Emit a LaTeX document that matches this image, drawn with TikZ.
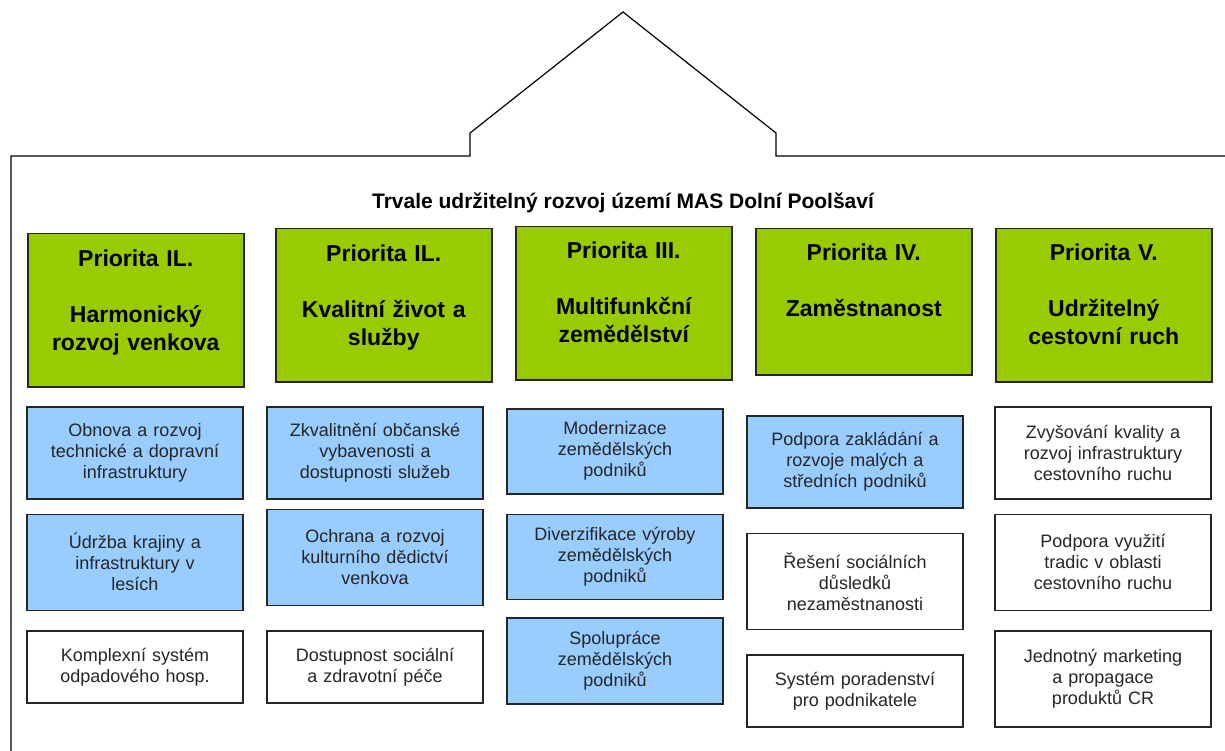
\documentclass[tikz,border=0pt]{standalone}
\usepackage{fontspec}
\setmainfont{Liberation Sans}
\usepackage{xcolor}
\usetikzlibrary{positioning}
\definecolor{masgreen}{HTML}{99CC00}
\definecolor{masblue}{HTML}{99CCFF}
\tikzset{
  mas priority/.style={rectangle, draw=black!85, line width=1.5pt, fill=masgreen, anchor=north west, minimum width=216pt, minimum height=153pt},
  mas priority text/.style={align=center, inner sep=0pt, text width=214pt, font=\bfseries\fontsize{23}{27.5}\selectfont},
  mas measure/.style={rectangle, draw=black!85, line width=1.5pt, fill=white, anchor=north, align=center, minimum width=216pt, inner sep=0pt, text width=210pt, text=black!85, font=\fontsize{18}{21}\selectfont},
  mas focus/.style={mas measure, fill=masblue},
  mas title/.style={font=\bfseries\fontsize{21}{25}\selectfont}
}
\begin{document}
\begin{tikzpicture}[x=1pt, y=-1pt]
    \useasboundingbox (0,0) rectangle (1225,751);
    % house outline
    \draw [line width=1.2pt] (11,751) -- (11,156) -- (470,156) -- (470,133) -- (623,12)
        -- (776,133) -- (776,156) -- (1225,156);
    \node [mas title] (title) at (623,203) {Trvale udržitelný rozvoj území MAS Dolní Poolšaví};

    % priorities
    \node [mas priority] (P1) at (27,233) {};
    \node [mas priority] (P2) at (275,228) {};
    \node [mas priority] (P3) at (515,226) {};
    \node [mas priority, minimum height=146pt] (P4) at (755,228) {};
    \node [mas priority] (P5) at (995,228) {};
    \node [mas priority text, below=17pt of P1.north] (P1t) {Priorita IL.\\[28.5pt]Harmonický\\rozvoj venkova};
    \node [mas priority text, below=17pt of P2.north] (P2t) {Priorita IL.\\[28.5pt]Kvalitní život a\\služby};
    \node [mas priority text, below=16pt of P3.north] (P3t) {Priorita III.\\[28.5pt]Multifunkční\\zemědělství};
    \node [mas priority text, below=16pt of P4.north] (P4t) {Priorita IV.\\[28.5pt]Zaměstnanost};
    \node [mas priority text, below=16pt of P5.north] (P5t) {Priorita V.\\[28.5pt]Udržitelný\\cestovní ruch};

    % measures I.
    \node [mas focus, minimum height=92pt] (M11) at (135,406) {Obnova a rozvoj\\technické a dopravní\\infrastruktury};
    \node [mas focus, minimum height=96pt, below=14pt of M11] (M12) {Údržba krajiny a\\infrastruktury v\\lesích};
    \node [mas measure, minimum height=72pt, below=19pt of M12] (M13) {Komplexní systém\\odpadového hosp.};

    % measures II.
    \node [mas focus, minimum height=92pt] (M21) at (375,406) {Zkvalitnění občanské\\vybavenosti a\\dostupnosti služeb};
    \node [mas focus, minimum height=96pt, below=9pt of M21] (M22) {Ochrana a rozvoj\\kulturního dědictví\\venkova};
    \node [mas measure, minimum height=72pt, below=24pt of M22] (M23) {Dostupnost sociální\\a zdravotní péče};

    % measures III.
    \node [mas focus, minimum height=85pt] (M31) at (615,408) {Modernizace\\zemědělských\\podniků};
    \node [mas focus, minimum height=85pt, below=19pt of M31] (M32) {Diverzifikace výroby\\zemědělských\\podniků};
    \node [mas focus, minimum height=86pt, below=17pt of M32] (M33) {Spolupráce\\zemědělských\\podniků};

    % measures IV.
    \node [mas focus, minimum height=92pt] (M41) at (855,415) {Podpora zakládání a\\rozvoje malých a\\středních podniků};
    \node [mas measure, minimum height=96pt, below=24pt of M41] (M42) {Řešení sociálních\\důsledků\\nezaměstnanosti};
    \node [mas measure, minimum height=72pt, below=24pt of M42] (M43) {Systém poradenství\\pro podnikatele};

    % measures V.
    \node [mas measure, minimum height=92pt] (M51) at (1103,406) {Zvyšování kvality a\\rozvoj infrastruktury\\cestovního ruchu};
    \node [mas measure, minimum height=96pt, below=14pt of M51] (M52) {Podpora využití\\tradic v oblasti\\cestovního ruchu};
    \node [mas measure, minimum height=96pt, below=19pt of M52] (M53) {Jednotný marketing\\a propagace\\produktů CR};
\end{tikzpicture}
\end{document}
